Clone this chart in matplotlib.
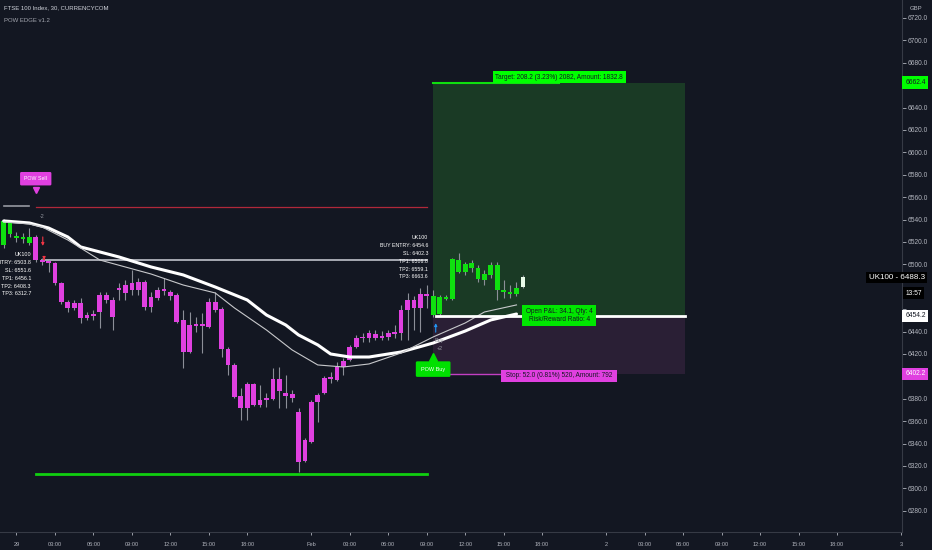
import numpy as np
import matplotlib.pyplot as plt
from matplotlib.patches import Rectangle

plt.rcParams['font.family'] = ['Liberation Sans', 'DejaVu Sans']

# ---- data (30 min bars, index 0 = 29th 00:00) ----
bars = np.arange(-2, 80)
opens = [6517.3, 6537.9, 6525.4, 6522.7, 6519.1, 6524.5, 6503.9, 6503.1, 6501.3, 6483.4,
         6466.4, 6465.6, 6465.6, 6454.8, 6455.7, 6457.5, 6472.7, 6468.2, 6477.2, 6474.5,
         6477.2, 6484.3, 6484.3, 6462.0, 6470.0, 6476.3, 6475.4, 6472.7, 6450.4, 6421.8,
         6445.0, 6446.8, 6444.1, 6466.4, 6460.2, 6424.5, 6410.2, 6382.5, 6371.8, 6393.2,
         6374.5, 6378.9, 6379.8, 6397.7, 6385.2, 6384.3, 6368.2, 6324.5, 6341.4, 6377.2,
         6385.2, 6397.7, 6396.8, 6408.4, 6414.7, 6426.3, 6434.3, 6434.3, 6437.9, 6434.3,
         6435.2, 6437.9, 6438.8, 6459.3, 6468.2, 6461.1, 6473.6, 6471.8, 6455.7, 6470.9,
         6469.1, 6503.9, 6493.2, 6501.3, 6496.8, 6486.1, 6490.6, 6499.5, 6477.2, 6475.4,
         6473.6, 6479.8]
highs = [6540.6, 6539.7, 6528.9, 6528.1, 6532.5, 6526.3, 6505.7, 6503.9, 6502.2, 6484.3,
         6468.2, 6468.2, 6470.0, 6457.5, 6459.3, 6475.4, 6475.4, 6470.9, 6483.4, 6486.1,
         6495.0, 6487.9, 6486.1, 6475.4, 6479.8, 6487.9, 6477.2, 6474.5, 6459.3, 6457.5,
         6453.0, 6456.6, 6470.0, 6475.4, 6462.0, 6426.3, 6412.0, 6389.7, 6395.0, 6394.1,
         6392.3, 6385.2, 6407.5, 6408.4, 6401.3, 6387.9, 6371.8, 6345.0, 6378.9, 6385.2,
         6400.4, 6403.9, 6412.9, 6416.4, 6428.0, 6437.0, 6438.8, 6441.4, 6441.4, 6440.5,
         6441.4, 6445.9, 6463.8, 6474.5, 6471.8, 6478.9, 6481.6, 6477.2, 6472.7, 6472.7,
         6505.7, 6510.2, 6502.2, 6503.9, 6499.5, 6495.0, 6502.2, 6502.2, 6486.1, 6481.6,
         6484.3, 6490.6]
lows = [6514.7, 6524.5, 6520.0, 6519.1, 6517.3, 6502.2, 6499.5, 6493.2, 6481.6, 6464.7,
        6457.5, 6459.3, 6447.7, 6450.4, 6450.4, 6443.2, 6465.6, 6441.4, 6468.2, 6468.2,
        6472.7, 6472.7, 6459.3, 6457.5, 6468.2, 6472.7, 6468.2, 6447.7, 6407.5, 6420.9,
        6439.7, 6420.9, 6443.2, 6457.5, 6417.3, 6401.3, 6380.7, 6361.1, 6361.1, 6373.6,
        6372.7, 6372.7, 6378.9, 6371.8, 6371.8, 6377.2, 6314.7, 6323.6, 6340.5, 6359.3,
        6384.3, 6394.1, 6395.9, 6401.3, 6413.8, 6425.4, 6430.7, 6430.7, 6432.5, 6432.5,
        6432.5, 6434.3, 6432.5, 6432.5, 6441.4, 6439.7, 6461.1, 6453.0, 6453.9, 6468.2,
        6468.2, 6492.3, 6490.6, 6493.2, 6484.3, 6481.6, 6487.9, 6468.2, 6470.0, 6470.0,
        6471.8, 6478.9]
closes = [6538.8, 6527.2, 6523.6, 6524.5, 6524.5, 6503.9, 6502.2, 6501.3, 6483.4, 6466.4,
          6461.1, 6461.1, 6452.2, 6452.2, 6453.9, 6472.7, 6468.2, 6453.0, 6478.9, 6481.6,
          6483.4, 6477.2, 6462.0, 6470.9, 6477.2, 6478.0, 6471.8, 6448.6, 6421.8, 6445.9,
          6446.8, 6445.0, 6466.4, 6459.3, 6424.5, 6410.2, 6381.6, 6371.8, 6393.2, 6374.5,
          6378.9, 6380.7, 6397.7, 6387.0, 6382.5, 6380.7, 6323.6, 6343.2, 6377.2, 6383.4,
          6398.6, 6399.5, 6408.4, 6413.8, 6426.3, 6434.3, 6435.2, 6438.8, 6434.3, 6436.1,
          6438.8, 6439.7, 6459.3, 6468.2, 6461.1, 6473.6, 6471.8, 6454.8, 6470.9, 6469.1,
          6504.8, 6493.2, 6500.4, 6496.8, 6487.0, 6491.4, 6499.5, 6477.2, 6475.4, 6473.6,
          6478.9, 6488.3]
trend = ['up'] * 5 + ['down'] * 62 + ['up'] * 14 + ['live']

# moving averages, sampled off the chart
slow_bars = [-2, 2, 5, 8, 10, 16, 21, 26, 31, 36, 39, 42, 44, 47, 49, 52, 55, 57, 60,
             65, 70, 74, 78]
slow_ma = [6538.8, 6537.0, 6532.5, 6524.5, 6515.6, 6506.6, 6497.7, 6490.6, 6479.8, 6468.2,
           6454.8, 6445.9, 6437.0, 6428.1, 6420.0, 6417.3, 6417.3, 6419.1, 6421.8,
           6429.8, 6440.5, 6450.4, 6455.7]
fast_bars = [-2, 2, 4, 8, 13, 21, 26, 31, 34, 39, 43, 47, 51, 55, 60, 65, 70, 73, 78]
fast_ma = [6537.9, 6536.1, 6533.4, 6521.8, 6503.9, 6491.4, 6481.6, 6474.5, 6461.1, 6441.4,
           6423.6, 6410.2, 6408.4, 6411.1, 6420.9, 6435.2, 6447.7, 6457.5, 6463.8]

# trade levels
sell_sl, sell_entry, sell_tp3 = 6551.6, 6503.8, 6312.7
buy_entry, buy_target, buy_stop = 6454.2, 6662.4, 6402.2
last_price = 6488.3
sell_info = ['UK100', 'SELL ENTRY: 6503.8', 'SL: 6551.6', 'TP1: 6456.1', 'TP2: 6408.3', 'TP3: 6312.7']
buy_info = ['UK100', 'BUY ENTRY: 6454.6', 'SL: 6402.3', 'TP1: 6506.8', 'TP2: 6559.1', 'TP3: 6663.6']

price_ticks = np.arange(6280, 6721, 20)
hidden_ticks = [6400, 6460, 6480, 6660]   # covered by the price tags
time_bars = [0, 6, 12, 18, 24, 30, 36, 46, 52, 58, 64, 70, 76, 82,
             92, 98, 104, 110, 116, 122, 128, 138]
time_labels = ['29', '03:00', '06:00', '09:00', '12:00', '15:00', '18:00',
               'Feb', '03:00', '06:00', '09:00', '12:00', '15:00', '18:00',
               '2', '03:00', '06:00', '09:00', '12:00', '15:00', '18:00', '3']

# ---- style ----
BG = '#131722'
GREEN = '#0fe00f'
MAGENTA = '#e040e0'
TXT = '#b2b5be'
sell_bar, buy_bar, box_end = 3, 65, 104.3

fig = plt.figure(figsize=(9.32, 5.5), dpi=100, facecolor=BG)
ax = fig.add_axes([0, 18 / 550, 902 / 932, 532 / 550], facecolor=BG)
ax.set_xlim(-2.574, 138.14)
ax.set_ylim(6261.05, 6736.07)

# position box
ax.add_patch(Rectangle((buy_bar, buy_entry), box_end - buy_bar, buy_target - buy_entry,
                       fc='#1a3a25', ec='none', zorder=0))
ax.add_patch(Rectangle((buy_bar, buy_stop), box_end - buy_bar, buy_entry - buy_stop,
                       fc='#2a1f35', ec='none', zorder=0))

# candles
colors = {'up': GREEN, 'down': MAGENTA, 'live': '#e8fbe8'}
o = np.array(opens)
c = np.array(closes)
bottom = np.minimum(o, c)
height = np.maximum(np.abs(c - o), 1.0)
ax.vlines(bars, lows, highs, color='#8c8f98', lw=0.8, zorder=2)
ax.bar(bars, height, bottom=bottom, width=0.74, color=[colors[t] for t in trend],
       edgecolor='none', zorder=3)

# moving averages
ax.plot(slow_bars, slow_ma, color='white', lw=2.2, zorder=4,
        solid_capstyle='round', solid_joinstyle='round')
ax.plot(fast_bars, fast_ma, color='#c8c9cc', lw=0.8, zorder=4)

# sell trade lines
ax.plot([-2, 2], [6552.2, 6552.2], color='#9598a1', lw=1.2, zorder=1)
ax.plot([sell_bar, buy_bar - 1], [sell_sl] * 2, color='#b0283a', lw=0.9, zorder=1)
ax.plot([sell_bar + 1, buy_bar - 1], [sell_entry] * 2, color='#b2b5be', lw=1.3, zorder=1)
ax.plot([sell_bar, buy_bar - 1], [sell_tp3] * 2, color='#10d010', lw=2, zorder=1)

# buy trade lines
ax.plot([buy_bar + 0.5, box_end], [buy_entry] * 2, color='white', lw=2, zorder=5)
ax.plot([buy_bar, 84.6], [buy_target] * 2, color=GREEN, lw=1.5, zorder=1)
ax.plot([buy_bar, 84.6], [buy_stop] * 2, color='#c33fc3', lw=1.0, zorder=1)

mid = (buy_bar + box_end) / 2
ax.text(mid, 6667, 'Target: 208.2 (3.23%) 2082, Amount: 1832.8', fontsize=4.7,
        color='#131722', ha='center', va='center', zorder=6,
        bbox=dict(boxstyle='square,pad=0.4', fc='#00ff00', ec='none'))
ax.text(mid, 6400.5, ' Stop: 52.0 (0.81%) 520, Amount: 792 ', fontsize=4.7,
        color='#131722', ha='center', va='center', zorder=6,
        bbox=dict(boxstyle='square,pad=0.4', fc=MAGENTA, ec='none'))
ax.text(mid, buy_entry, 'Open P&L: 34.1, Qty: 4\nRisk/Reward Ratio: 4', fontsize=4.7,
        color='#131722', ha='center', va='center', zorder=6, linespacing=1.15,
        bbox=dict(boxstyle='square,pad=0.5', fc='#00e600', ec='none'))

# signal bubbles
ax.text(sell_bar, 6576.5, 'POW Sell', fontsize=3.8, color='white', ha='center', va='center',
        zorder=6, bbox=dict(boxstyle='round,pad=0.8,rounding_size=0.25', fc=MAGENTA, ec='none'))
ax.plot(sell_bar, 6566, marker='v', ms=4.5, color=MAGENTA, zorder=6)
ax.text(buy_bar, 6406.5, 'POW Buy', fontsize=4.0, color='white', ha='center', va='center',
        zorder=6, bbox=dict(boxstyle='round,pad=0.95,rounding_size=0.25', fc='#00e000', ec='none'))
ax.plot(buy_bar, 6417, marker='^', ms=5.5, color='#00e000', zorder=6)

# small markers
ax.text(4, 6542.4, '-2', fontsize=3.9, color='#9598a1', ha='center', va='center', zorder=6)
ax.annotate('', xy=(4.1, 6514.0), xytext=(4.1, 6527.0), zorder=6,
            arrowprops=dict(arrowstyle='-|>', color='#f23645', lw=0.8, mutation_scale=4))
ax.annotate('', xy=(4.3, 6501.5), xytext=(4.3, 6507.0), zorder=6,
            arrowprops=dict(arrowstyle='-|>', color='#f23645', lw=0.8, mutation_scale=4))
ax.annotate('', xy=(65.4, 6450.0), xytext=(65.4, 6437.0), zorder=6,
            arrowprops=dict(arrowstyle='-|>', color='#2196f3', lw=0.8, mutation_scale=4))
ax.text(66, 6431.7, 'Buy', fontsize=3.9, color='#9598a1', ha='center', va='center', zorder=6)
ax.text(66, 6424.6, '+2', fontsize=3.9, color='#9598a1', ha='center', va='center', zorder=6)

# info blocks
step = 6.96
for k, line in enumerate(sell_info):
    ax.text(2.26, 6508.4 - k * step, line, fontsize=3.85, color='white',
            ha='right', va='center', zorder=6)
for k, line in enumerate(buy_info):
    ax.text(64.2, 6523.6 - k * step, line, fontsize=3.8, color='white',
            ha='right', va='center', zorder=6)

# axes
ax.yaxis.tick_right()
ax.set_yticks(price_ticks)
ax.set_yticklabels(['' if v in hidden_ticks else f'{v:.1f}' for v in price_ticks])
ax.set_xticks(time_bars)
ax.set_xticklabels(time_labels)
ax.tick_params(axis='y', colors=TXT, labelsize=4.8, length=3, pad=0.8, width=0.6)
ax.tick_params(axis='x', colors=TXT, labelsize=4.1, length=2, pad=5, width=0.6)
for s in ['top', 'left']:
    ax.spines[s].set_visible(False)
for s in ['bottom', 'right']:
    ax.spines[s].set_color('#363a45')
    ax.spines[s].set_linewidth(0.8)

# price tags on the scale
ytr = ax.get_yaxis_transform()
tag = dict(transform=ytr, fontsize=4.8, ha='left', va='center', clip_on=False, zorder=7)
ax.text(1.0035, buy_target, f'{buy_target:.1f}', color='#131722',
        bbox=dict(boxstyle='square,pad=0.4', fc='#00ff00', ec='none'), **tag)
ax.text(1.0035, buy_entry, f'{buy_entry:.1f}', color='#131722',
        bbox=dict(boxstyle='square,pad=0.4', fc='white', ec='none'), **tag)
ax.text(1.0035, buy_stop, f'{buy_stop:.1f}', color='white',
        bbox=dict(boxstyle='square,pad=0.4', fc=MAGENTA, ec='none'), **tag)
ax.text(1.0035, 6474.2, '13:57', color='white',
        bbox=dict(boxstyle='square,pad=0.35', fc='black', ec='none'), **tag)
ax.text(1.0255, last_price, f'UK100 - {last_price:.1f}', transform=ytr, fontsize=5.8,
        color='white', ha='right', va='center', clip_on=False, zorder=7,
        bbox=dict(boxstyle='square,pad=0.3', fc='black', ec='none'))

# header texts
fig.text(4 / 932, 1 - 8 / 550, 'FTSE 100 Index, 30, CURRENCYCOM', fontsize=4.3,
         color='#d1d4dc', ha='left', va='center')
fig.text(4 / 932, 1 - 21 / 550, 'POW EDGE v1.2', fontsize=4.3, color='#a3a6af',
         ha='left', va='center')
fig.text(916 / 932, 1 - 8 / 550, 'GBP', fontsize=4.3, color=TXT, ha='center', va='center')

fig.savefig('out.png', dpi=100, facecolor=BG)
